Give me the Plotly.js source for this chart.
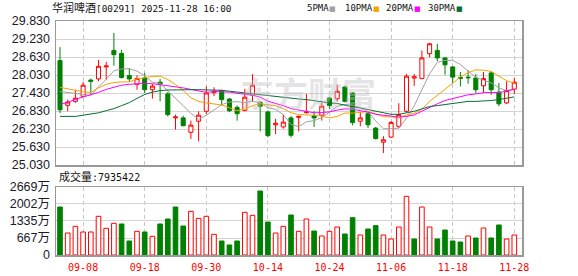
<!DOCTYPE html>
<html>
<head>
<meta charset="utf-8">
<script src="https://cdn.plot.ly/plotly-3.0.1.min.js"></script>
<style>html,body{margin:0;padding:0;background:#fff;}#chart{width:578px;height:276px;}</style>
</head>
<body>
<div id="chart"></div>
<script>
const dates = ['09-03','09-04','09-05','09-08','09-09','09-10','09-11','09-12','09-15','09-16','09-17','09-18','09-19','09-22','09-23','09-24','09-25','09-26','09-29','09-30',
'10-02','10-03','10-06','10-08','10-09','10-10','10-13','10-14','10-15','10-16','10-17','10-20','10-21','10-22','10-23','10-24','10-27','10-28','10-30','10-31',
'11-03','11-04','11-05','11-06','11-07','11-10','11-11','11-12','11-13','11-14','11-17','11-18','11-19','11-20','11-21','11-24','11-25','11-26','11-27','11-28'];

const openP = [28.51,27.02,27.15,27.32,27.86,27.90,28.30,28.85,28.75,28.01,27.72,27.93,27.54,27.79,27.40,26.60,26.60,26.12,26.49,26.82,
27.44,27.51,27.23,26.95,26.85,27.35,27.12,26.80,26.37,26.30,26.60,26.62,26.78,26.67,26.69,27.26,27.24,27.63,27.43,26.49,
26.74,26.26,25.79,25.96,26.32,26.82,27.93,27.91,28.74,28.85,28.60,28.30,27.95,27.96,27.93,27.67,28.10,27.46,27.10,27.56];
const highP = [28.96,27.21,27.54,27.80,27.91,28.53,28.47,29.43,28.87,28.26,28.02,28.10,27.73,27.90,27.46,26.71,26.67,26.51,26.82,27.65,
27.62,27.54,27.26,27.02,27.57,28.06,27.15,26.84,26.57,26.71,26.66,26.67,27.40,26.82,27.10,27.30,27.71,27.67,27.46,26.79,
26.82,26.30,25.99,26.49,27.09,28.06,28.06,28.85,29.10,29.07,28.62,28.32,28.13,28.19,28.06,28.13,28.15,27.76,27.82,27.93];
const lowP = [26.76,26.82,27.10,27.29,27.40,27.82,27.87,28.34,27.91,27.80,27.54,27.43,27.24,27.15,26.65,26.21,26.32,25.90,25.82,26.73,
27.33,27.02,26.79,26.51,26.82,27.15,26.15,25.96,26.06,26.24,25.95,26.15,26.74,26.30,26.51,26.90,27.15,27.12,26.35,26.32,
26.26,25.88,25.43,25.93,26.26,26.79,27.67,27.90,28.62,28.49,28.04,27.76,27.65,27.74,27.43,27.43,27.37,26.99,27.06,27.40];
const closeP = [26.87,27.13,27.26,27.69,27.82,28.32,28.33,28.71,27.95,27.90,27.91,27.54,27.66,27.73,26.71,26.63,26.34,26.36,26.69,27.43,
27.49,27.21,26.84,26.74,27.29,27.69,26.99,26.01,26.42,26.46,26.02,26.65,26.80,26.60,26.99,27.01,27.49,27.15,26.45,26.60,
26.37,25.91,25.87,26.45,26.71,27.99,27.97,28.60,29.07,28.60,28.37,27.96,27.92,27.94,27.54,27.91,27.54,27.07,27.51,27.79];

const ma5 = [27.48,27.45,27.42,27.40,27.35,27.64,27.88,28.17,28.23,28.24,28.16,28.00,27.79,27.75,27.51,27.25,27.01,26.75,26.55,26.69,
26.86,27.04,27.13,27.14,27.11,27.15,27.11,26.94,26.88,26.71,26.38,26.31,26.47,26.51,26.61,26.81,26.98,27.05,27.02,26.94,
26.81,26.50,26.24,26.24,26.26,26.59,27.00,27.54,28.07,28.45,28.52,28.52,28.38,28.16,27.95,27.85,27.77,27.60,27.51,27.56];
const ma10 = [27.62,27.57,27.52,27.47,27.45,27.60,27.72,27.78,27.80,27.80,27.90,27.94,27.98,27.99,27.88,27.71,27.51,27.27,27.15,27.10,
27.06,27.03,26.94,26.84,26.90,27.01,27.07,27.04,27.01,26.91,26.77,26.71,26.71,26.69,26.66,26.60,26.65,26.76,26.76,26.78,
26.81,26.74,26.64,26.63,26.60,26.70,26.75,26.89,27.15,27.35,27.55,27.76,27.96,28.11,28.20,28.19,28.15,27.99,27.84,27.76];
const ma20 = [27.05,27.12,27.22,27.30,27.36,27.45,27.55,27.63,27.69,27.72,27.74,27.75,27.74,27.71,27.68,27.64,27.60,27.55,27.50,27.45,
27.48,27.48,27.46,27.42,27.39,27.36,27.29,27.16,27.08,27.01,26.91,26.87,26.83,26.77,26.78,26.80,26.86,26.90,26.89,26.85,
26.79,26.72,26.68,26.66,26.63,26.65,26.70,26.83,26.96,27.07,27.18,27.25,27.30,27.37,27.40,27.44,27.45,27.44,27.50,27.55];
const ma30 = [26.65,26.65,26.65,26.69,26.73,26.77,26.84,26.91,27.01,27.11,27.25,27.38,27.46,27.51,27.53,27.54,27.54,27.54,27.54,27.54,
27.54,27.52,27.49,27.46,27.43,27.40,27.37,27.33,27.30,27.27,27.24,27.23,27.21,27.17,27.15,27.10,27.08,27.02,26.97,26.93,
26.88,26.82,26.76,26.72,26.72,26.77,26.82,26.90,26.98,27.01,27.04,27.07,27.11,27.15,27.15,27.16,27.18,27.21,27.25,27.30];

// volume in 万 shares, and direction as drawn (u = red hollow, d = green)
const volume = [1884,863,1125,903,903,1518,1047,1243,1217,550,929,903,733,1217,1413,1884,1138,1714,1439,1518,
812,550,392,550,1675,1557,2512,1295,863,1125,1570,929,1413,942,746,929,1099,824,1465,785,
1020,1151,785,628,1099,2303,628,1884,1099,628,981,550,510,746,667,1060,667,1178,628,785];
const volDir = ['d','u','u','u','u','u','u','u','d','d','u','d','u','d','d','d','d','u','u','u',
'u','d','d','d','u','u','d','d','u','u','d','u','u','d','u','u','u','d','d','u',
'd','d','u','u','u','u','d','u','u','d','d','d','d','u','d','u','d','d','u','u'];

const tickDates = ['09-08','09-18','09-30','10-14','10-24','11-06','11-18','11-28'];
const priceTicks = [25.03,25.63,26.23,26.83,27.43,28.03,28.63,29.23,29.83];
const volTicks = [0,667,1335,2002,2669];
const volTickText = ['0','667万','1335万','2002万','2669万'];
const maNames = ['5PMA','10PMA','20PMA','30PMA'];
const maColors = ['#a0a0a0','#f5a300','#ff00ff','#0b6b35'];
const stockName = '华润啤酒';
const stockInfo = '[00291] 2025-11-28 16:00';
const volLabel = '成交量';
const volValue = ':7935422';

const RED = '#ff0000', GREEN = '#008000';

const traces = [];
traces.push({
  type:'candlestick', x:dates, open:openP, high:highP, low:lowP, close:closeP,
  xaxis:'x', yaxis:'y',
  increasing:{line:{color:RED,width:1}, fillcolor:'#ffffff'},
  decreasing:{line:{color:GREEN,width:1}, fillcolor:GREEN},
  whiskerwidth:0, hoverinfo:'skip', showlegend:false
});
[ma5,ma10,ma20,ma30].forEach((arr,k)=>{
  traces.push({type:'scatter', mode:'lines', x:dates, y:arr, xaxis:'x', yaxis:'y',
    line:{color:maColors[k], width:1}, hoverinfo:'skip', showlegend:false, name:maNames[k]});
});
traces.push({
  type:'bar', x:dates, y:volume, xaxis:'x2', yaxis:'y2', width:0.6,
  marker:{color:volDir.map(d=>d==='u'?'#ffffff':GREEN), line:{color:volDir.map(d=>d==='u'?RED:GREEN), width:1}},
  hoverinfo:'skip', showlegend:false
});

const W=578,H=276,L=56,R=522,T=21,B=255;
const px = v => (v-L)/(R-L);
const py = v => (B-v)/(B-T);

const monoCJK = '"DejaVu Sans Mono", "Noto Sans CJK SC", monospace';
const annotations = [
  {xref:'paper',yref:'paper',x:px(50),y:py(8.5),xanchor:'left',yanchor:'middle',showarrow:false,
   text:'<span style="font-size:11px">'+stockName+'</span>'+stockInfo,font:{family:monoCJK,size:9.4,color:'#111'}},
  {xref:'paper',yref:'paper',x:px(57),y:py(177),xanchor:'left',yanchor:'middle',showarrow:false,
   text:'<span style="font-size:11px">'+volLabel+'</span>'+volValue,font:{family:monoCJK,size:10,color:'#111'}},
  {xref:'paper',yref:'paper',x:px(308),y:py(92),xanchor:'center',yanchor:'middle',showarrow:false,
   text:'东方财富',font:{family:'"Noto Sans CJK SC"',size:34,color:'rgba(190,190,198,0.42)',weight:700}}
];
const legX = [306,344,385,427];
const sqX = [332.5,376.5,417.5,459.5];
maNames.forEach((n,k)=>{
  annotations.push({xref:'paper',yref:'paper',x:px(legX[k]-1),y:py(8.5),xanchor:'left',yanchor:'middle',showarrow:false,
    text:n,font:{family:'"DejaVu Sans Mono", monospace',size:9,color:'#111'}});
  annotations.push({xref:'paper',yref:'paper',x:px(sqX[k]),y:py(9.5),xanchor:'center',yanchor:'middle',showarrow:false,
    text:'■',font:{family:'"DejaVu Sans"',size:7,color:maColors[k]}});
});

const axisCommon = {showline:true, mirror:true, linecolor:'#999999', linewidth:1.5, zeroline:false, ticks:'', fixedrange:true};
const layout = {
  width:W, height:H, margin:{l:L, r:W-R, t:T, b:H-B, pad:0},
  paper_bgcolor:'#ffffff', plot_bgcolor:'#ffffff', showlegend:false, boxgap:0.25,
  xaxis:Object.assign({}, axisCommon, {type:'category', range:[-0.52,60.0], anchor:'y', tickvals:tickDates,
    showticklabels:false, showgrid:true, gridcolor:'#c8c8c8', griddash:'4px,3px', gridwidth:1, rangeslider:{visible:false}}),
  yaxis:Object.assign({}, axisCommon, {domain:[py(165),1], range:[25.03,29.83], tickvals:priceTicks,
    tickformat:'.3f', showgrid:true, gridcolor:'#d4d4d4', gridwidth:1, ticklabelstandoff:2,
    tickfont:{family:'"Liberation Sans", Arial, sans-serif', size:12.5, color:'#1a1a2a'}}),
  xaxis2:Object.assign({}, axisCommon, {type:'category', range:[-0.52,60.0], anchor:'y2', tickvals:tickDates,
    showgrid:true, gridcolor:'#c8c8c8', griddash:'4px,3px', gridwidth:1, ticklabelstandoff:2,
    tickfont:{family:'"DejaVu Sans Mono", monospace', size:10, color:'#ff0000'}}),
  yaxis2:Object.assign({}, axisCommon, {domain:[0,py(187)], range:[0,2669], tickvals:volTicks, ticktext:volTickText,
    showgrid:true, gridcolor:'#d4d4d4', gridwidth:1, ticklabelstandoff:2,
    tickfont:{family:'"Liberation Sans", Arial, "Noto Sans CJK SC", sans-serif', size:12.5, color:'#1a1a2a'}}),
  annotations:annotations
};
Plotly.newPlot('chart', traces, layout, {displayModeBar:false, staticPlot:true});
</script>
</body>
</html>
